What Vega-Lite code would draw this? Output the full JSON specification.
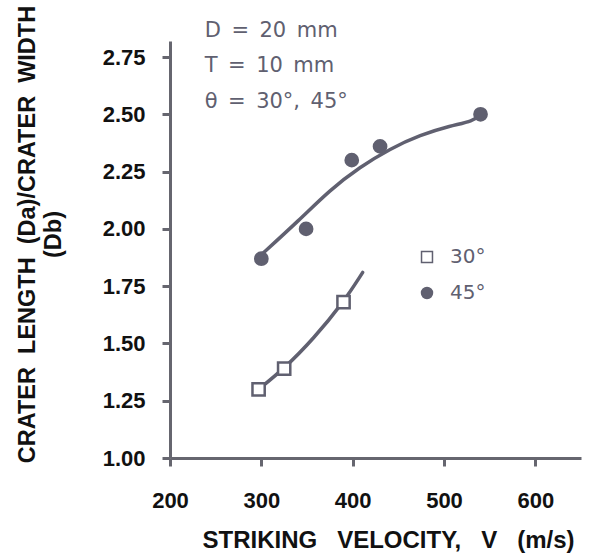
{
  "$schema": "https://vega.github.io/schema/vega-lite/v6.json",
  "width": 411,
  "height": 417,
  "autosize": {"type": "none"},
  "padding": {"left": 170, "top": 41, "right": 8, "bottom": 99},
  "background": "white",
  "config": {
    "view": {"stroke": null},
    "font": "DejaVu Sans"
  },
  "datasets": {
    "measured": [
      {"series": "30°", "v": 297, "r": 1.30},
      {"series": "30°", "v": 325, "r": 1.39},
      {"series": "30°", "v": 390, "r": 1.68},
      {"series": "45°", "v": 300, "r": 1.87},
      {"series": "45°", "v": 349, "r": 2.00},
      {"series": "45°", "v": 399, "r": 2.30},
      {"series": "45°", "v": 430, "r": 2.36},
      {"series": "45°", "v": 540, "r": 2.50}
    ],
    "trend": [
      {"series": "30°", "v": 297, "r": 1.30},
      {"series": "30°", "v": 325, "r": 1.39},
      {"series": "30°", "v": 357, "r": 1.52},
      {"series": "30°", "v": 390, "r": 1.68},
      {"series": "30°", "v": 411, "r": 1.81},
      {"series": "45°", "v": 298, "r": 1.88},
      {"series": "45°", "v": 342, "r": 2.04},
      {"series": "45°", "v": 375, "r": 2.17},
      {"series": "45°", "v": 408, "r": 2.27},
      {"series": "45°", "v": 441, "r": 2.35},
      {"series": "45°", "v": 474, "r": 2.41},
      {"series": "45°", "v": 507, "r": 2.45},
      {"series": "45°", "v": 532, "r": 2.47},
      {"series": "45°", "v": 540, "r": 2.50}
    ],
    "notes": [
      {"v": 238, "r": 2.837, "label": "D\u2002=\u200220\u2002mm"},
      {"v": 238, "r": 2.685, "label": "T\u2002=\u200210\u2002mm"},
      {"v": 238, "r": 2.528, "label": "θ\u2002=\u200230°,\u200245°"}
    ]
  },
  "encoding": {
    "x": {
      "field": "v",
      "type": "quantitative",
      "scale": {"domain": [200, 650], "nice": false, "zero": false},
      "axis": {
        "values": [200, 300, 400, 500, 600],
        "grid": false,
        "domainColor": "#66666f",
        "domainWidth": 3,
        "tickColor": "#66666f",
        "tickWidth": 3,
        "tickSize": 8,
        "labelFont": "Liberation Sans",
        "labelFontWeight": "bold",
        "labelFontSize": 22,
        "labelColor": "#111111",
        "labelBaseline": "alphabetic",
        "labelPadding": 41,
        "labelFlush": false,
        "title": "STRIKING\u00a0\u00a0\u00a0VELOCITY,\u00a0\u00a0\u00a0V\u00a0\u00a0\u00a0(m/s)",
        "titleFont": "Liberation Sans",
        "titleFontWeight": "bold",
        "titleFontSize": 24,
        "titleColor": "#111111",
        "titleAlign": "center",
        "titleBaseline": "alphabetic",
        "titleX": 218,
        "titleY": 89
      }
    },
    "y": {
      "field": "r",
      "type": "quantitative",
      "scale": {"domain": [1, 2.82], "nice": false, "zero": false},
      "axis": {
        "values": [1, 1.25, 1.5, 1.75, 2, 2.25, 2.5, 2.75],
        "format": ".2f",
        "grid": false,
        "domainColor": "#66666f",
        "domainWidth": 3,
        "tickColor": "#66666f",
        "tickWidth": 3,
        "tickSize": 8,
        "labelFont": "Liberation Sans",
        "labelFontWeight": "bold",
        "labelFontSize": 22,
        "labelColor": "#111111",
        "labelPadding": 17,
        "labelFlush": false,
        "title": ["CRATER\u00a0\u00a0LENGTH\u00a0\u00a0(Da)/CRATER\u00a0\u00a0WIDTH", "(Db)"],
        "titleFont": "Liberation Sans",
        "titleFontWeight": "bold",
        "titleFontSize": 23.5,
        "titleColor": "#111111",
        "titleAngle": -90,
        "titleAlign": "center",
        "titleBaseline": "top",
        "titleLineHeight": 26,
        "titleX": -155,
        "titleY": 193
      }
    }
  },
  "layer": [
    {
      "data": {"name": "trend"},
      "mark": {"type": "line", "interpolate": "basis", "color": "#606070", "strokeWidth": 3.5, "strokeCap": "round"},
      "encoding": {"detail": {"field": "series"}}
    },
    {
      "data": {"name": "measured"},
      "mark": {"type": "point", "filled": true, "size": 150, "stroke": "#606070", "strokeWidth": 2.5, "opacity": 1},
      "encoding": {
        "shape": {
          "field": "series",
          "type": "nominal",
          "scale": {"domain": ["30°", "45°"], "range": ["square", "circle"]},
          "legend": {
            "title": null,
            "orient": "none",
            "legendX": 247,
            "legendY": 206,
            "padding": 0,
            "rowPadding": 16,
            "labelOffset": 13,
            "labelFont": "DejaVu Sans",
            "labelFontSize": 20,
            "labelColor": "#606070",
            "symbolSize": 120,
            "encode": {
              "symbols": {"update": {"stroke": {"value": "#606070"}, "strokeWidth": {"value": 2.5}}}
            }
          }
        },
        "fill": {
          "field": "series",
          "type": "nominal",
          "scale": {"domain": ["30°", "45°"], "range": ["white", "#606070"]},
          "legend": {
            "title": null,
            "orient": "none",
            "legendX": 247,
            "legendY": 206,
            "padding": 0,
            "rowPadding": 16,
            "labelOffset": 13,
            "labelFont": "DejaVu Sans",
            "labelFontSize": 20,
            "labelColor": "#606070",
            "symbolSize": 120,
            "encode": {
              "symbols": {"update": {"stroke": {"value": "#606070"}, "strokeWidth": {"value": 2.5}}}
            }
          }
        }
      }
    },
    {
      "data": {"name": "notes"},
      "mark": {"type": "text", "align": "left", "baseline": "alphabetic", "font": "DejaVu Sans", "fontSize": 21, "color": "#606070"},
      "encoding": {"text": {"field": "label"}}
    }
  ]
}
